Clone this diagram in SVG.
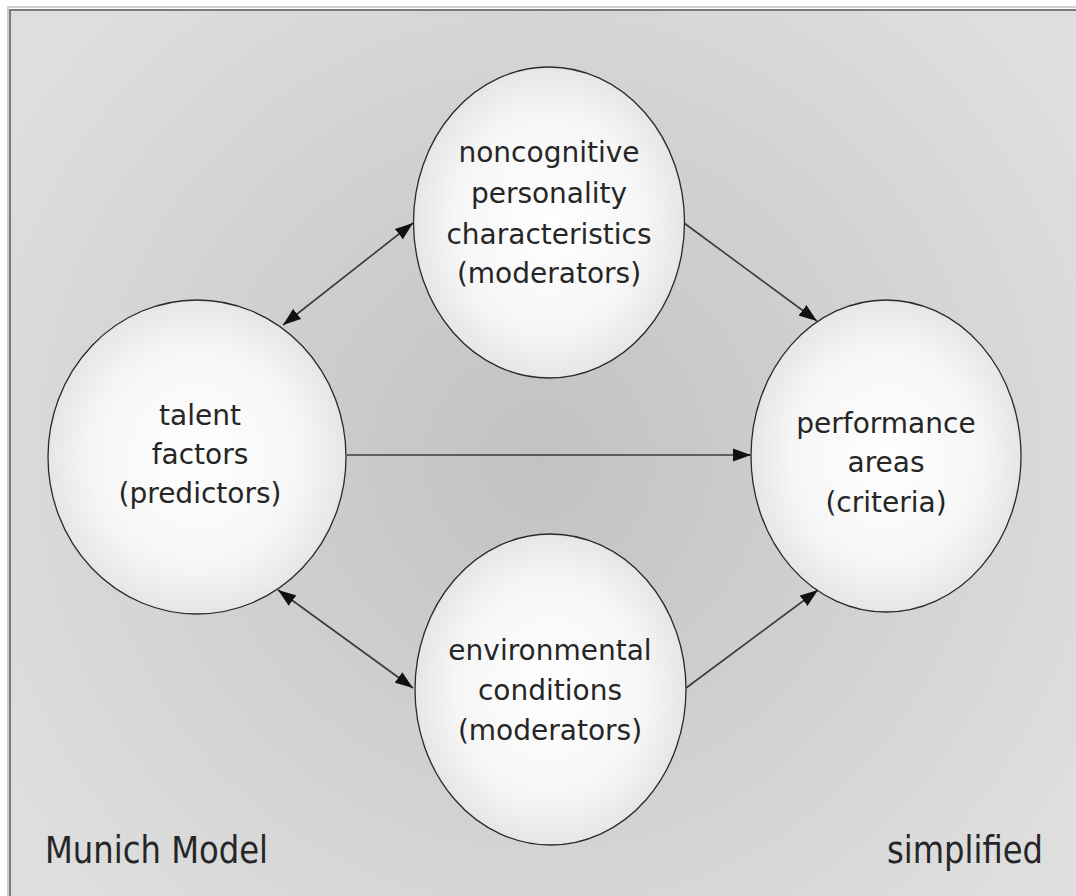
<svg xmlns="http://www.w3.org/2000/svg" width="1076" height="896" viewBox="0 0 1076 896">
<defs>
<radialGradient id="bg" cx="540" cy="460" r="620" gradientUnits="userSpaceOnUse">
<stop offset="0" stop-color="#c2c2c2"/>
<stop offset="1" stop-color="#dedede"/>
</radialGradient>
<radialGradient id="nodeFill" cx="0.5" cy="0.5" r="0.5">
<stop offset="0" stop-color="#ffffff"/>
<stop offset="0.7" stop-color="#f6f6f6"/>
<stop offset="1" stop-color="#e6e6e6"/>
</radialGradient>
<marker id="ah" markerUnits="userSpaceOnUse" markerWidth="20" markerHeight="14" refX="18" refY="7" orient="auto-start-reverse" viewBox="0 0 20 14">
<path d="M0,0.5 L18,7 L0,13.5 z" fill="#111"/>
</marker>
<style>
.node ellipse{fill:url(#nodeFill);stroke:#2a2a2a;stroke-width:1.3}
.lbl{font-family:"DejaVu Sans","Verdana","Liberation Sans",sans-serif;font-size:28px;fill:#262626;text-anchor:middle}
.corner{font-family:"DejaVu Sans","Verdana","Liberation Sans",sans-serif;font-size:37px;fill:#262626}
.conn line{stroke:#3a3a3a;stroke-width:1.6;fill:none}
</style>
</defs>
<rect x="0" y="0" width="1076" height="896" fill="#ffffff"/>
<rect x="8" y="7" width="1100" height="920" fill="none" stroke="#d0d0d0" stroke-width="2"/>
<rect x="10" y="10" width="1100" height="920" fill="url(#bg)" stroke="#7a7a7a" stroke-width="2"/>
<g id="connectors" class="conn">
<line x1="283" y1="325" x2="413" y2="223" marker-start="url(#ah)" marker-end="url(#ah)"/>
<line x1="684" y1="223" x2="817" y2="321" marker-end="url(#ah)"/>
<line x1="347" y1="455" x2="751" y2="455" marker-end="url(#ah)"/>
<line x1="278" y1="590" x2="413" y2="688" marker-start="url(#ah)" marker-end="url(#ah)"/>
<line x1="686" y1="688" x2="818" y2="590" marker-end="url(#ah)"/>
</g>
<g id="noncognitive" class="node">
<ellipse cx="549" cy="222.5" rx="135.5" ry="155.5"/>
<text class="lbl" x="549" y="162">noncognitive</text>
<text class="lbl" x="549" y="203">personality</text>
<text class="lbl" x="549" y="244">characteristics</text>
<text class="lbl" x="549" y="283">(moderators)</text>
</g>
<g id="talent" class="node">
<ellipse cx="197" cy="457" rx="149" ry="157"/>
<text class="lbl" x="200" y="425">talent</text>
<text class="lbl" x="200" y="464">factors</text>
<text class="lbl" x="200" y="503">(predictors)</text>
</g>
<g id="performance" class="node">
<ellipse cx="886" cy="456" rx="135" ry="156"/>
<text class="lbl" x="886" y="433">performance</text>
<text class="lbl" x="886" y="472">areas</text>
<text class="lbl" x="886" y="512">(criteria)</text>
</g>
<g id="environmental" class="node">
<ellipse cx="550.5" cy="689.5" rx="135.5" ry="155.5"/>
<text class="lbl" x="550" y="660">environmental</text>
<text class="lbl" x="550" y="700">conditions</text>
<text class="lbl" x="550" y="740">(moderators)</text>
</g>
<text class="corner" x="45" y="863" textLength="223" lengthAdjust="spacingAndGlyphs">Munich Model</text>
<text class="corner" x="887" y="863" textLength="156" lengthAdjust="spacingAndGlyphs">simplified</text>
</svg>
